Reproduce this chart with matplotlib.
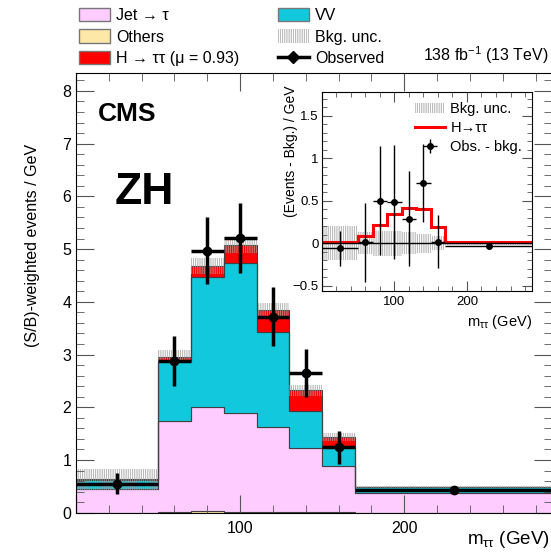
import numpy as np
import matplotlib
matplotlib.use("Agg")
import matplotlib.pyplot as plt
from matplotlib.patches import Patch
from matplotlib.lines import Line2D
from matplotlib.ticker import MultipleLocator, FuncFormatter

plt.rcParams['font.family'] = ['Liberation Sans', 'DejaVu Sans']
plt.rcParams['hatch.linewidth'] = 0.5
plt.rcParams['mathtext.fontset'] = 'custom'
plt.rcParams['mathtext.rm'] = 'Liberation Sans'
plt.rcParams['mathtext.it'] = 'Liberation Sans'

# bin edges in m_tautau (GeV)
edges = np.array([0, 50, 70, 90, 110, 130, 150, 170, 290])

# stacked components (S/B-weighted events / GeV)
others = np.array([0.00, 0.01, 0.04, 0.02, 0.02, 0.02, 0.01, 0.00])
jet_tau = np.array([0.45, 1.72, 1.97, 1.88, 1.60, 1.20, 0.88, 0.38])
vv = np.array([0.17, 1.15, 2.46, 2.83, 1.81, 0.70, 0.36, 0.10])
htt = np.array([0.01, 0.08, 0.21, 0.34, 0.42, 0.40, 0.19, 0.01])
bkg_unc = np.array([0.20, 0.13, 0.15, 0.15, 0.13, 0.11, 0.08, 0.02])

observed = np.array([0.55, 2.88, 4.97, 5.21, 3.72, 2.65, 1.24, 0.44])
obs_err = np.array([0.20, 0.47, 0.63, 0.67, 0.56, 0.45, 0.31, 0.03])

# inset: observed minus background
obs_minus_bkg = np.array([-0.06, 0.01, 0.50, 0.49, 0.29, 0.71, 0.02, -0.03])
omb_err = np.array([0.21, 0.46, 0.64, 0.67, 0.56, 0.46, 0.31, 0.04])

centers = 0.5 * (edges[1:] + edges[:-1])
halfw = 0.5 * np.diff(edges)

c_jet = '#ffccff'
c_oth = '#fde8a8'
c_vv = '#12c8dc'
c_h = '#ff0000'
c_edge = '#404040'
c_unc = '#a0a0a0'
unc_hatch = '|||||||||'

def no_zero(v, p):
    if abs(v) < 1e-9:
        return ''
    return '%g' % v

fig = plt.figure(figsize=(5.51, 5.52), dpi=100)
ax = fig.add_axes([76/551, 1-512.7/552, 476/551, (512.7-73)/552])

b0 = others
b1 = b0 + jet_tau
b2 = b1 + vv
b3 = b2 + htt
ax.stairs(b0, edges, baseline=0, fill=True, facecolor=c_oth, edgecolor=c_edge, lw=0.8)
ax.stairs(b1, edges, baseline=b0, fill=True, facecolor=c_jet, edgecolor=c_edge, lw=0.8)
ax.stairs(b2, edges, baseline=b1, fill=True, facecolor=c_vv, edgecolor=c_edge, lw=0.8)
ax.stairs(b3, edges, baseline=b2, fill=True, facecolor=c_h, edgecolor=c_edge, lw=0.8)
ax.stairs(b3 + bkg_unc, edges, baseline=b3 - bkg_unc, fill=True, facecolor='none',
          edgecolor=c_unc, hatch=unc_hatch, lw=0)
ax.errorbar(centers, observed, xerr=halfw, yerr=obs_err, fmt='o', color='k',
            ms=6, elinewidth=2.5, capsize=0)

ax.set_xlim(0, 290)
ax.set_ylim(0, 8.34)
ax.xaxis.set_major_locator(MultipleLocator(100))
ax.xaxis.set_minor_locator(MultipleLocator(20))
ax.xaxis.set_major_formatter(FuncFormatter(no_zero))
ax.yaxis.set_major_locator(MultipleLocator(1))
ax.yaxis.set_minor_locator(MultipleLocator(0.2))
ax.tick_params(which='both', direction='in', top=True, right=True, labelsize=11.5, color='#555555')
ax.tick_params(which='major', length=13)
ax.tick_params(which='minor', length=6)
ax.tick_params(axis='x', pad=6)

fig.text(33/551, 1-245/552, '(S/B)-weighted events / GeV', rotation=90,
         ha='center', va='center', fontsize=11.5)
fig.text(550/551, 1-540/552, r'm$_{\tau\tau}$ (GeV)', ha='right', va='center', fontsize=13.5)
ax.text(0.045, 0.935, 'CMS', transform=ax.transAxes, fontsize=19, fontweight='bold', va='top')
ax.text(0.082, 0.775, 'ZH', transform=ax.transAxes, fontsize=32, fontweight='bold', va='top')
fig.text(549/551, 1-55/552, r'138 fb$^{-1}$ (13 TeV)', ha='right', va='center', fontsize=11.5)

handles = [
    Patch(facecolor=c_jet, edgecolor='#777777', label='Jet \u2192 \u03c4'),
    Patch(facecolor=c_oth, edgecolor='#777777', label='Others'),
    Patch(facecolor=c_h, edgecolor='#777777', label='H \u2192 \u03c4\u03c4 (\u03bc = 0.93)'),
    Patch(facecolor=c_vv, edgecolor='#777777', label='VV'),
    Patch(facecolor='none', edgecolor=c_unc, hatch=unc_hatch, lw=0, label='Bkg. unc.'),
    Line2D([0], [0], color='k', lw=2.5, marker='D', ms=6, label='Observed'),
]
fig.legend(handles=handles, loc='upper left', bbox_to_anchor=(68/551, 1.0 + 3/552), ncol=2,
           frameon=False, fontsize=11.5, handlelength=1.9, handleheight=0.9,
           handletextpad=0.4, columnspacing=2.45, labelspacing=0.38, borderaxespad=0.3)

# inset
ax2 = fig.add_axes([321.7/551, 1-291/552, (532.3-321.7)/551, (291-91.7)/552])
ax2.stairs(bkg_unc, edges, baseline=-bkg_unc, fill=True, facecolor='none',
           edgecolor=c_unc, hatch=unc_hatch, lw=0)
ax2.axhline(0, color='k', lw=1)
ax2.stairs(htt, edges, baseline=None, color=c_h, lw=2.2)
eb = ax2.errorbar(centers, obs_minus_bkg, xerr=halfw, yerr=omb_err, fmt='o', color='k',
                  ms=4, elinewidth=1, capsize=0, label='Obs. - bkg.')
ax2.set_xlim(0, 290)
ax2.set_ylim(-0.56, 1.78)
ax2.xaxis.set_major_locator(MultipleLocator(100))
ax2.xaxis.set_minor_locator(MultipleLocator(20))
ax2.xaxis.set_major_formatter(FuncFormatter(no_zero))
ax2.yaxis.set_major_locator(MultipleLocator(0.5))
ax2.yaxis.set_minor_locator(MultipleLocator(0.1))
ax2.tick_params(which='both', direction='in', top=True, right=True, labelsize=9.5, color='#555555')
ax2.tick_params(which='major', length=7)
ax2.tick_params(which='minor', length=3.5)
ax2.tick_params(axis='y', pad=2)
ax2.yaxis.set_major_formatter(FuncFormatter(
    lambda v, p: ('\u2212' if v < 0 else '') + ('%g' % abs(v))))
fig.text(291/551, 1-151/552, '(Events - Bkg.) / GeV', rotation=90,
         ha='center', va='center', fontsize=10)
fig.text(532/551, 1-322/552, r'm$_{\tau\tau}$ (GeV)', ha='right', va='center', fontsize=10.5)
ih = [
    Patch(facecolor='none', edgecolor=c_unc, hatch=unc_hatch, lw=0, label='Bkg. unc.'),
    Line2D([0], [0], color=c_h, lw=2.2, label='H\u2192\u03c4\u03c4'),
    eb,
]
ax2.legend(handles=ih, loc='upper right', frameon=False, fontsize=10.5,
           handlelength=2.0, handletextpad=0.4, labelspacing=0.35, borderaxespad=0.3)

fig.savefig('out.png', dpi=100)
